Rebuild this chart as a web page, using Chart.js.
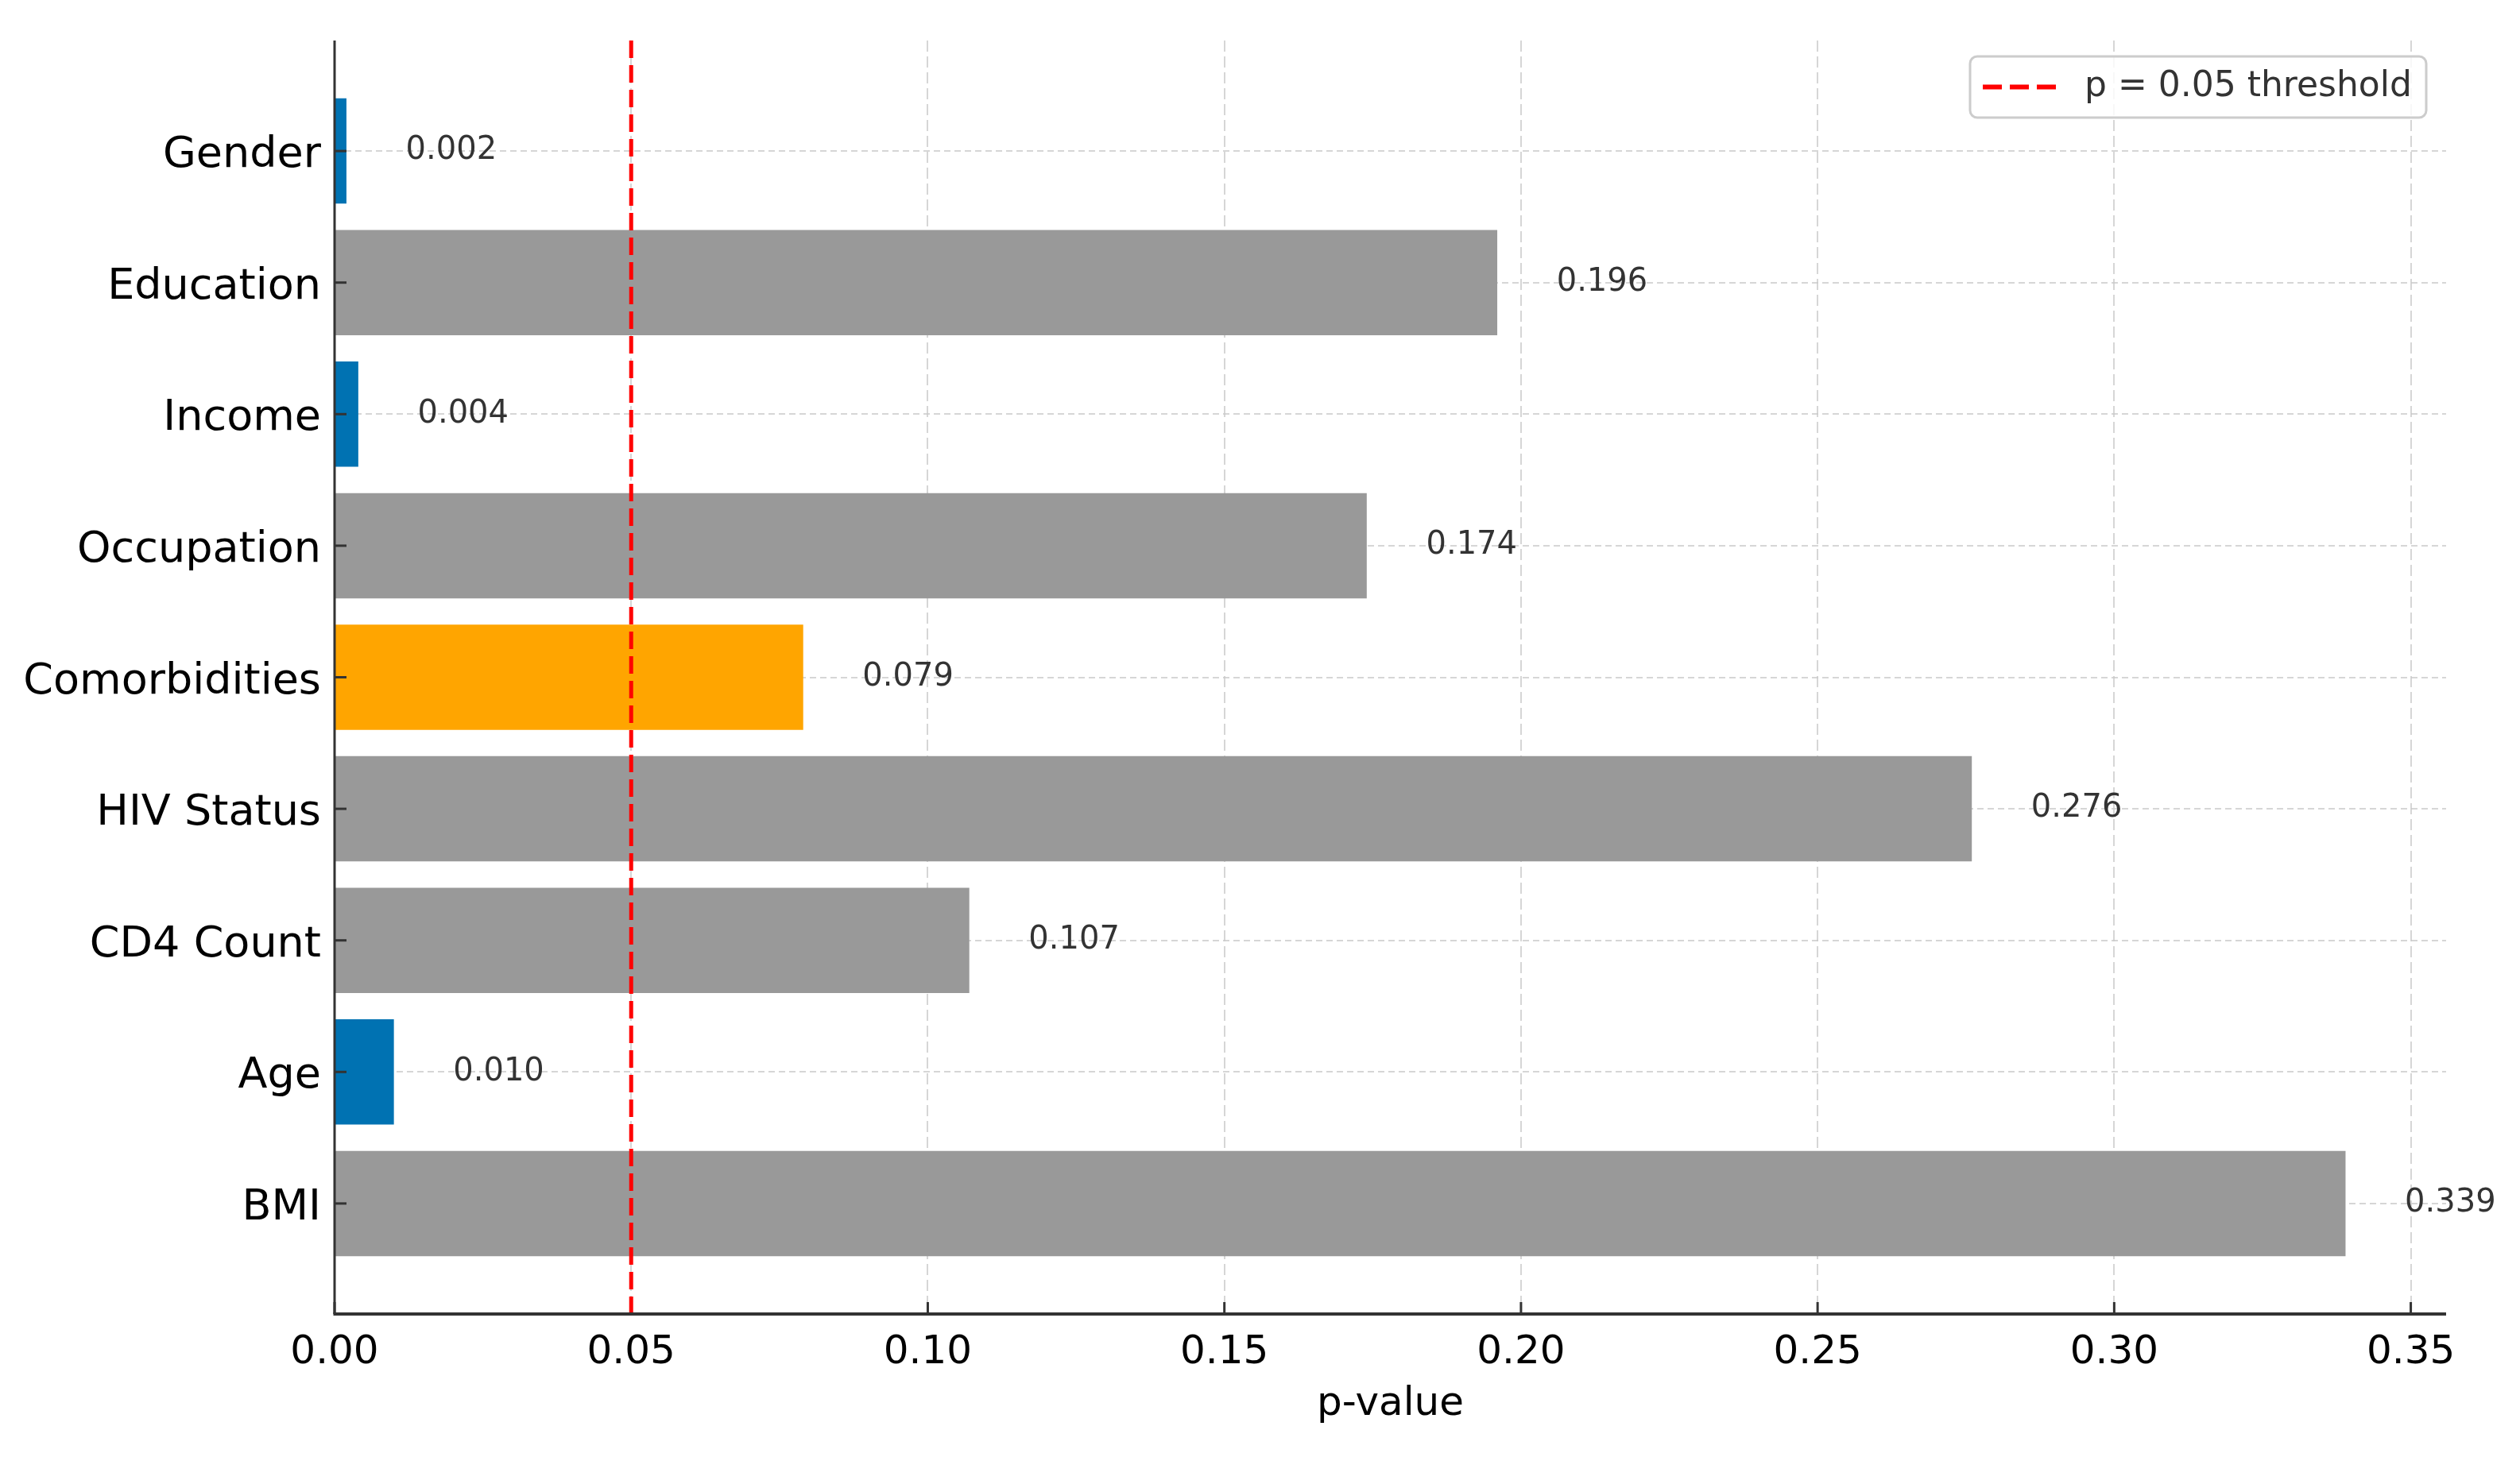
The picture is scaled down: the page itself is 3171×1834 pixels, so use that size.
<!DOCTYPE html>
<html>
<head>
<meta charset="utf-8">
<script src="https://cdn.jsdelivr.net/npm/chart.js@4/dist/chart.umd.min.js"></script>
<style>
  html, body { margin: 0; padding: 0; background: #fff; }
  #wrap { width: 3171px; height: 1834px; position: relative; }
</style>
</head>
<body>
<div id="wrap"><canvas id="pChart"></canvas></div>
<script>
const categories = ['Gender', 'Education', 'Income', 'Occupation', 'Comorbidities', 'HIV Status', 'CD4 Count', 'Age', 'BMI'];
const pValues = [0.002, 0.196, 0.004, 0.174, 0.079, 0.276, 0.107, 0.010, 0.339];
const barColors = ['#0072b2', '#999999', '#0072b2', '#999999', '#ffa500', '#999999', '#999999', '#0072b2', '#999999'];
const xTicks = [0.00, 0.05, 0.10, 0.15, 0.20, 0.25, 0.30, 0.35];
const threshold = 0.05;
const legendText = 'p = 0.05 threshold';

const FONT = "'DejaVu Sans', sans-serif";

// annotations, threshold line, inward ticks and legend box
const overlay = {
    id: 'overlay',
    afterDraw(chart) {
        const ctx = chart.ctx;
        const x = chart.scales.x, y = chart.scales.y;
        const area = chart.chartArea;
        ctx.save();

        // value labels
        ctx.fillStyle = '#333';
        ctx.font = '40px ' + FONT;
        ctx.textAlign = 'left';
        ctx.textBaseline = 'middle';
        pValues.forEach((v, i) => {
            ctx.fillText(v.toFixed(3), x.getPixelForValue(v + 0.01), y.getPixelForValue(i));
        });

        // inward tick marks
        ctx.strokeStyle = '#333';
        ctx.lineWidth = 3;
        ctx.setLineDash([]);
        xTicks.forEach(t => {
            const px = x.getPixelForValue(t);
            ctx.beginPath();
            ctx.moveTo(px, area.bottom);
            ctx.lineTo(px, area.bottom - 15);
            ctx.stroke();
        });
        categories.forEach((c, i) => {
            const py = y.getPixelForValue(i);
            ctx.beginPath();
            ctx.moveTo(area.left, py);
            ctx.lineTo(area.left + 15, py);
            ctx.stroke();
        });

        // threshold line
        const tx = x.getPixelForValue(threshold);
        ctx.strokeStyle = '#ff0000';
        ctx.lineWidth = 5;
        ctx.setLineDash([22, 9]);
        ctx.beginPath();
        ctx.moveTo(tx, area.top);
        ctx.lineTo(tx, area.bottom);
        ctx.stroke();

        // legend
        const bx = 2479, by = 71, bw = 574, bh = 77;
        ctx.setLineDash([]);
        ctx.fillStyle = 'rgba(255,255,255,0.85)';
        ctx.strokeStyle = '#cccccc';
        ctx.lineWidth = 3;
        ctx.beginPath();
        ctx.roundRect(bx, by, bw, bh, 9);
        ctx.fill();
        ctx.stroke();
        ctx.strokeStyle = '#ff0000';
        ctx.lineWidth = 6;
        ctx.setLineDash([24, 10]);
        ctx.beginPath();
        ctx.moveTo(2495, by + bh / 2);
        ctx.lineTo(2590, by + bh / 2);
        ctx.stroke();
        ctx.fillStyle = '#333';
        ctx.font = '44px ' + FONT;
        ctx.textAlign = 'left';
        ctx.textBaseline = 'middle';
        ctx.fillText(legendText, 2623, by + bh / 2);

        // solid spines on top
        ctx.setLineDash([]);
        ctx.strokeStyle = '#333';
        ctx.lineWidth = 3;
        ctx.beginPath();
        ctx.moveTo(area.left, area.top);
        ctx.lineTo(area.left, area.bottom);
        ctx.stroke();
        ctx.lineWidth = 4;
        ctx.beginPath();
        ctx.moveTo(area.left - 1.5, area.bottom);
        ctx.lineTo(area.right, area.bottom);
        ctx.stroke();

        ctx.restore();
    }
};

const gridColor = 'rgba(200,200,200,0.75)';

new Chart(document.getElementById('pChart'), {
    type: 'bar',
    data: {
        datasets: [{
            data: pValues.map((v, i) => ({ x: v, y: i })),
            backgroundColor: barColors,
            borderWidth: 0,
            barPercentage: 0.8,
            categoryPercentage: 1.0
        }]
    },
    options: {
        indexAxis: 'y',
        responsive: true,
        maintainAspectRatio: false,
        animation: false,
        layout: { padding: { left: 0, top: 51, right: 93, bottom: 0 } },
        plugins: {
            legend: { display: false },
            tooltip: { enabled: false }
        },
        scales: {
            x: {
                type: 'linear',
                position: 'bottom',
                min: 0,
                max: 0.35595,
                z: 1,
                afterBuildTicks: (axis) => { axis.ticks = xTicks.map(v => ({ value: v })); },
                afterFit: (scale) => { scale.height = 180; },
                grid: {
                    color: gridColor,
                    lineWidth: 2,
                    drawTicks: false
                },
                border: { display: false, dash: [14, 6] },
                ticks: {
                    color: '#000',
                    font: { family: FONT, size: 50 },
                    padding: 19,
                    autoSkip: false,
                    maxRotation: 0,
                    callback: (v) => Number(v).toFixed(2)
                },
                title: {
                    display: true,
                    text: 'p-value',
                    color: '#000',
                    font: { family: FONT, size: 50 },
                    padding: { top: 0, bottom: 36 }
                }
            },
            y: {
                type: 'linear',
                position: 'left',
                reverse: true,
                offset: false,
                min: -0.84,
                max: 8.84,
                z: 1,
                afterBuildTicks: (axis) => { axis.ticks = categories.map((c, i) => ({ value: i })); },
                afterFit: (scale) => { scale.width = 421; },
                grid: {
                    color: gridColor,
                    lineWidth: 2,
                    offset: false,
                    drawTicks: false
                },
                border: { display: false, dash: [8, 5] },
                ticks: {
                    color: '#000',
                    font: { family: FONT, size: 54 },
                    padding: 17,
                    labelOffset: 6,
                    autoSkip: false,
                    callback: (v) => categories[v]
                }
            }
        }
    },
    plugins: [overlay]
});
</script>
</body>
</html>
